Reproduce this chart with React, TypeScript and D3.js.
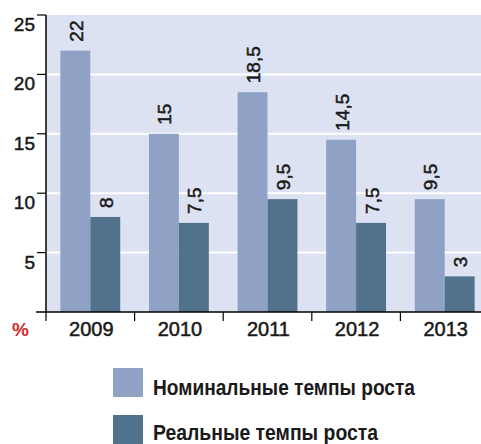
import React from "react";
import * as d3 from "d3";

const years = ["2009", "2010", "2011", "2012", "2013"];
const nominal = [22, 15, 18.5, 14.5, 9.5];
const real = [8, 7.5, 9.5, 7.5, 3];
const nominalLabels = ["22", "15", "18,5", "14,5", "9,5"];
const realLabels = ["8", "7,5", "9,5", "7,5", "3"];
const seriesNames = ["Номинальные темпы роста", "Реальные темпы роста"];
const yTicks = [5, 10, 15, 20, 25];

const W = 481;
const H = 444;
const colors = ["#8fa2c6", "#52728b"];
const bg = "#dde2f2";

export default function App() {
  const x = d3.scaleBand<string>().domain(years).range([46, 489]).padding(0);
  const inner = d3
    .scaleBand<string>()
    .domain(["n", "r"])
    .range([0, x.step()])
    .paddingInner(0)
    .paddingOuter(0.48);
  const y = d3.scaleLinear().domain([0, 25]).range([312, 15]);
  const font = "'Liberation Sans', Arial, Helvetica, sans-serif";
  const txt = "#1a1a1a";
  const legendY = [368, 415];
  const legendBase = [395, 440];
  const legendLen = [262, 225];

  const data = years.map((yr, i) => ({
    yr,
    vals: [
      { key: "n", v: nominal[i], label: nominalLabels[i], color: colors[0] },
      { key: "r", v: real[i], label: realLabels[i], color: colors[1] },
    ],
  }));

  return (
    <svg
      width={W}
      height={H}
      style={{ position: "absolute", left: 0, top: 0, background: "#fff" }}
    >
      <rect x={46} y={y(25)} width={W - 46} height={y(0) - y(25)} fill={bg} />
      {yTicks.slice(0, 4).map((t) => (
        <line key={"g" + t} x1={46} x2={W} y1={y(t)} y2={y(t)} stroke="#fff" strokeWidth={2} />
      ))}
      {data.map((d) =>
        d.vals.map((v) => (
          <g key={d.yr + v.key}>
            <rect
              x={(x(d.yr) as number) + (inner(v.key) as number)}
              y={y(v.v)}
              width={inner.bandwidth()}
              height={y(0) - y(v.v)}
              fill={v.color}
            />
            <text
              transform={`translate(${(x(d.yr) as number) + (inner(v.key) as number) + inner.bandwidth() / 2 + 1},${y(v.v) - 9}) rotate(-90)`}
              fontFamily={font}
              fontSize={19}
              fill={txt}
              stroke={txt}
              strokeWidth={0.5}
              dominantBaseline="central"
              textAnchor="start"
            >
              {v.label}
            </text>
          </g>
        ))
      )}
      {/* y axis */}
      <line x1={46} x2={46} y1={y(25)} y2={y(0)} stroke="#000" strokeWidth={1.5} />
      {yTicks.map((t) => (
        <g key={"t" + t}>
          <line x1={37} x2={46} y1={y(t)} y2={y(t)} stroke="#000" strokeWidth={1.2} />
          <text
            x={35}
            y={y(t) + 16}
            textAnchor="end"
            fontFamily={font}
            fontSize={19}
            fill={txt}
            stroke={txt}
            strokeWidth={0.5}
          >
            {t}
          </text>
        </g>
      ))}
      {/* x axis */}
      <line x1={36} x2={W} y1={y(0)} y2={y(0)} stroke="#000" strokeWidth={1.5} />
      {years.map((yr) => (
        <g key={"x" + yr}>
          <line
            x1={x(yr) as number}
            x2={x(yr) as number}
            y1={y(0)}
            y2={y(0) + 9}
            stroke="#000"
            strokeWidth={1.2}
          />
          <text
            x={(x(yr) as number) + x.bandwidth() / 2 + 1}
            y={336}
            textAnchor="middle"
            fontFamily={font}
            fontSize={20}
            fill={txt}
            stroke={txt}
            strokeWidth={0.5}
          >
            {yr}
          </text>
        </g>
      ))}
      <text x={12} y={336} fontFamily={font} fontSize={19} fill="#d42a2a" fontWeight="bold">
        %
      </text>
      {/* legend */}
      {seriesNames.map((s, i) => (
        <g key={s}>
          <rect x={113} y={legendY[i]} width={30} height={29} fill={colors[i]} />
          <text
            x={153}
            y={legendBase[i]}
            fontFamily={font}
            fontSize={22}
            fontWeight="bold"
            fill={txt}
            textLength={legendLen[i]}
            lengthAdjust="spacingAndGlyphs"
          >
            {s}
          </text>
        </g>
      ))}
    </svg>
  );
}
